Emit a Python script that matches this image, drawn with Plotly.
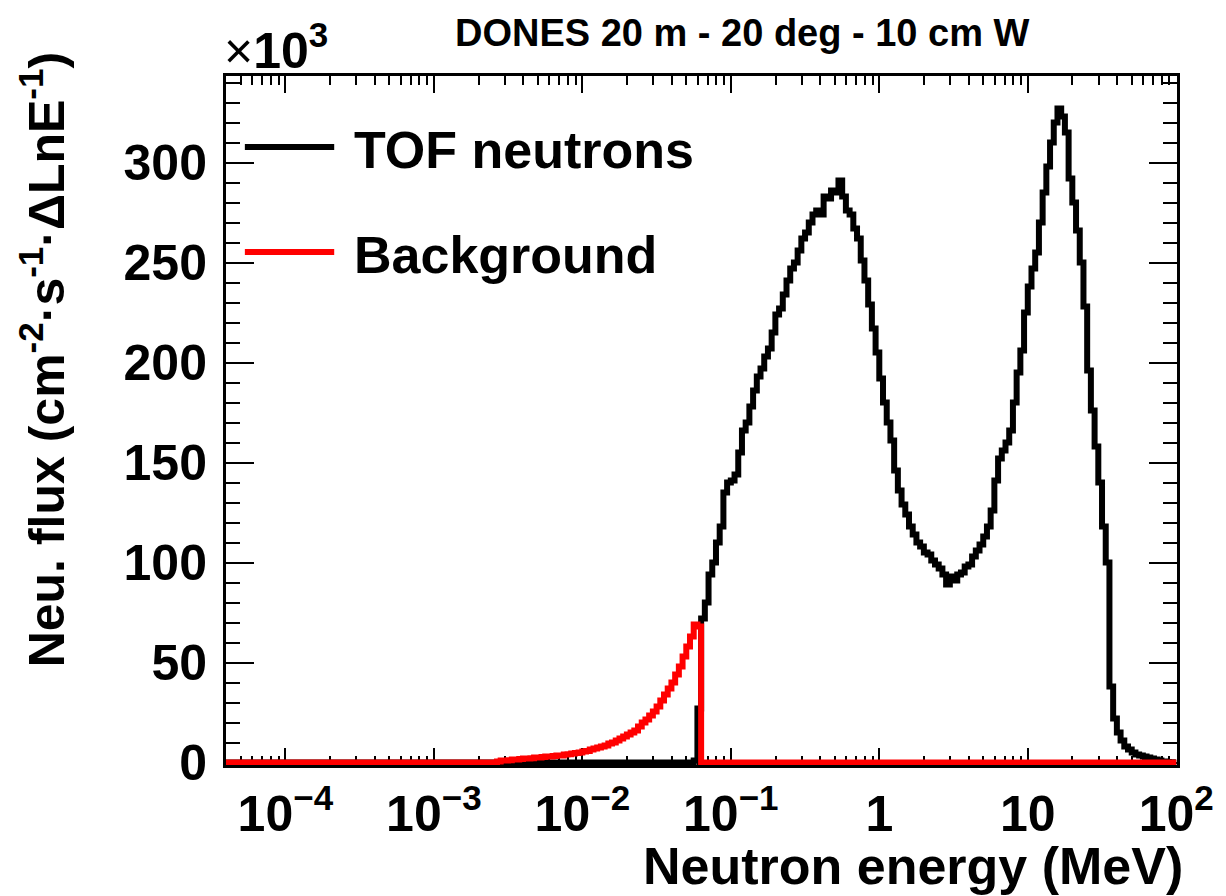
import numpy as np
import plotly.graph_objects as go

# Histogram binning: 40 bins per decade in log10(E/MeV)
log_e_min = -4.4
bins_per_decade = 40
n_bins = 256

# Background flux per bin (x10^3 cm^-2 s^-1 per unit lnE)
bkg_zero_lead = 73
bkg_flux_nonzero = [0.5, 1, 1, 1.2, 1.5, 1.5, 1.8, 2, 2, 2.2,
                    2.5, 2.5, 2.8, 3, 3, 3.3, 3.5, 3.5, 4, 4.2,
                    4.5, 4.8, 5, 5.5, 5.8, 6.5, 7, 7.5, 8, 8.5,
                    9.5, 10, 11, 12, 13, 14, 15, 16, 18, 20,
                    21.5, 23.5, 25.5, 28, 31, 34, 37, 40, 44, 48,
                    53, 58, 63, 69, 68]

# TOF neutron flux per bin (x10^3 cm^-2 s^-1 per unit lnE)
tof_zero_lead = 126
tof_flux_nonzero = [1, 27,
                    72, 80, 94, 100, 110, 118, 135, 140, 141, 144,
                    155, 166, 170, 178, 186, 193, 197, 203, 207, 215,
                    224, 227, 234, 241, 247, 250, 256, 262, 265, 270,
                    274, 276, 274, 283, 282, 286, 285, 291, 283, 276,
                    274, 267, 262, 251, 241, 229, 217, 205, 192, 180,
                    170, 161, 146, 136, 129, 124, 118, 114, 110, 108,
                    105, 104, 101, 99, 97, 94, 89, 93, 91, 94,
                    95, 98, 99, 103, 106, 109, 113, 118, 126, 141,
                    152, 156, 160, 166, 180, 195, 206, 225, 238, 247,
                    255, 270, 285, 298, 310, 320, 327, 323, 315, 292,
                    280, 266, 250, 228, 196, 176, 158, 140, 118, 100,
                    38, 22, 15, 11, 8, 6.5, 5, 4, 3.5, 3,
                    2.5, 2, 1.5, 1, 0.5, 0.3, 0.2, 0.1]

bkg_flux = [0.0] * bkg_zero_lead + bkg_flux_nonzero
bkg_flux += [0.0] * (n_bins - len(bkg_flux))
tof_flux = [0.0] * tof_zero_lead + tof_flux_nonzero
tof_flux += [0.0] * (n_bins - len(tof_flux))

x_tick_vals = [1e-4, 1e-3, 1e-2, 1e-1, 1, 10, 100]
x_tick_text = ["10<sup>\u22124</sup>", "10<sup>\u22123</sup>", "10<sup>\u22122</sup>",
               "10<sup>\u22121</sup>", "1", "10", "10<sup>2</sup>"]
y_tick_vals = [0, 50, 100, 150, 200, 250, 300]

edges = 10 ** (log_e_min + np.arange(n_bins + 1) / bins_per_decade)


def step_xy(values):
    # ROOT-like histogram outline: each bin drawn as a flat top, joined by verticals
    return list(edges), list(values) + [values[-1]]


FONT = "Liberation Sans, Arial, Helvetica, sans-serif"

fig = go.Figure()
xs, ys = step_xy(tof_flux)
fig.add_trace(go.Scatter(x=xs, y=ys, mode="lines", line=dict(color="black", width=6, shape="hv"),
                         showlegend=False, hoverinfo="skip"))
xs, ys = step_xy(bkg_flux)
fig.add_trace(go.Scatter(x=xs, y=ys, mode="lines", line=dict(color="#ff0000", width=6, shape="hv"),
                         showlegend=False, hoverinfo="skip"))

minor_x = [d * 10.0 ** p for p in range(-5, 2) for d in range(2, 10)]
minor_x = [v for v in minor_x if 4e-5 < v < 100]

fig.update_xaxes(
    type="log", range=[-4.4, 2.005],
    showgrid=False, zeroline=False,
    showline=True, linecolor="black", linewidth=3, mirror="ticks",
    ticks="inside", ticklen=17, tickwidth=2, tickcolor="black",
    tickvals=x_tick_vals, ticktext=x_tick_text,
    tickfont=dict(family=FONT, size=50, color="black", weight="bold"),
    ticklabelstandoff=3,
    minor=dict(tickvals=minor_x, ticks="inside", ticklen=9, tickwidth=2, tickcolor="black", showgrid=False),
    layer="below traces",
)
fig.update_yaxes(
    range=[-1.2, 343.3],
    showgrid=False, zeroline=False,
    showline=True, linecolor="black", linewidth=3, mirror="ticks",
    ticks="inside", ticklen=28, tickwidth=2, tickcolor="black",
    tickvals=y_tick_vals,
    tickfont=dict(family=FONT, size=50, color="black", weight="bold"),
    ticklabelstandoff=6,
    minor=dict(dtick=10, ticks="inside", ticklen=14, tickwidth=2, tickcolor="black", showgrid=False),
    layer="below traces",
)

W, H = 1226, 896
L, R, T, B = 226, 42, 76, 131
pw, ph = W - L - R, H - T - B


def px(x):
    return (x - L) / pw


def py(y):
    return (H - B - y) / ph


annotations = [
    dict(text="<b>DONES 20 m - 20 deg - 10 cm W</b>", x=px(746), y=py(33), xanchor="center", yanchor="middle",
         font=dict(family=FONT, size=38, color="black")),
    dict(text="\u00d7<b>10<sup>3</sup></b>", x=px(222), y=py(47), xanchor="left", yanchor="middle",
         font=dict(family=FONT, size=50, color="black")),
    dict(text="<b>Neutron energy (MeV)</b>", x=px(1192), y=py(866), xanchor="right", yanchor="middle",
         font=dict(family=FONT, size=52, color="black")),
    dict(text="<b>Neu. flux (cm<sup>-2</sup>\u00b7s<sup>-1</sup>\u00b7\u0394LnE<sup>-1</sup>)</b>",
         x=px(42), y=py(360), xanchor="center", yanchor="middle", textangle=-90,
         font=dict(family=FONT, size=50, color="black")),
    dict(text="<b>TOF neutrons</b>", x=px(353), y=py(150), xanchor="left", yanchor="middle",
         font=dict(family=FONT, size=52, color="black")),
    dict(text="<b>Background</b>", x=px(353), y=py(255), xanchor="left", yanchor="middle",
         font=dict(family=FONT, size=52, color="black")),
]
for a in annotations:
    a.update(xref="paper", yref="paper", showarrow=False)

shapes = [
    dict(type="line", xref="paper", yref="paper", x0=px(245), x1=px(335), y0=py(147), y1=py(147),
         line=dict(color="black", width=6)),
    dict(type="line", xref="paper", yref="paper", x0=px(245), x1=px(335), y0=py(252), y1=py(252),
         line=dict(color="#ff0000", width=6)),
]

fig.update_layout(
    width=W, height=H, autosize=False,
    margin=dict(l=L, r=R, t=T, b=B, pad=0),
    paper_bgcolor="white", plot_bgcolor="white",
    annotations=annotations, shapes=shapes,
    font=dict(family=FONT, color="black"),
)

fig.write_html("out.html")
